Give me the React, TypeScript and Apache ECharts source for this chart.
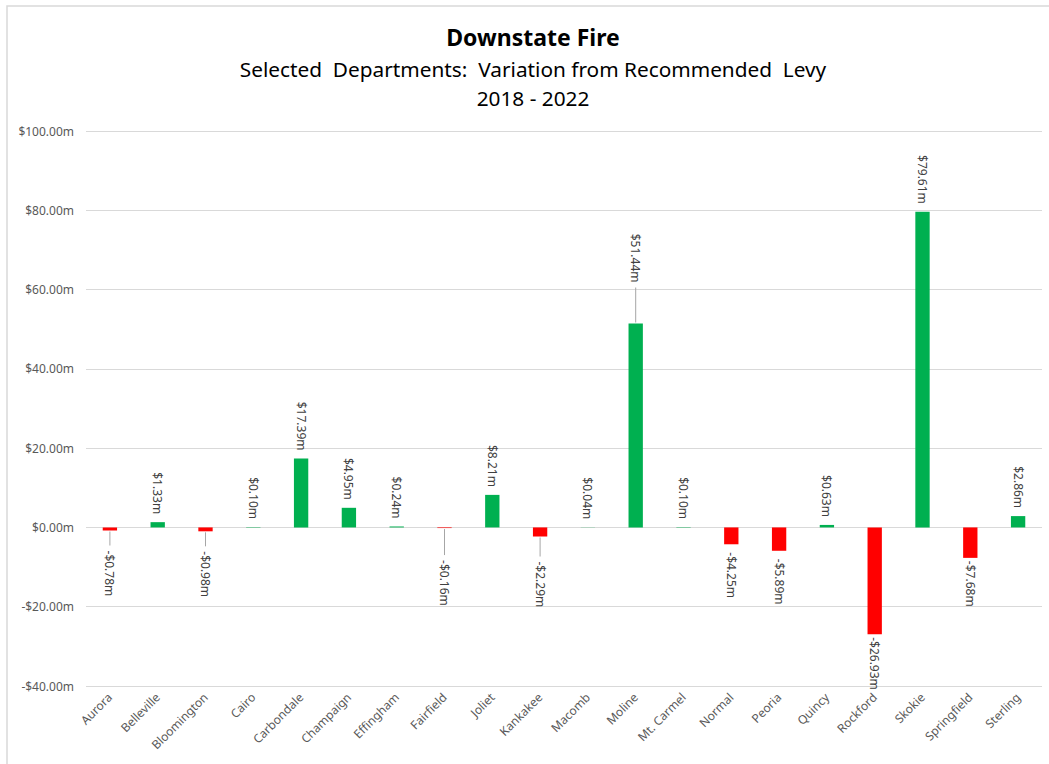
import React, { useEffect, useRef } from "react";
import * as echarts from "echarts";

const categories = [
  "Aurora", "Belleville", "Bloomington", "Cairo", "Carbondale", "Champaign",
  "Effingham", "Fairfield", "Joliet", "Kankakee", "Macomb", "Moline",
  "Mt. Carmel", "Normal", "Peoria", "Quincy", "Rockford", "Skokie",
  "Springfield", "Sterling",
];
const variation = [
  -0.78, 1.33, -0.98, 0.1, 17.39, 4.95, 0.24, -0.16, 8.21, -2.29, 0.04, 51.44,
  0.1, -4.25, -5.89, 0.63, -26.93, 79.61, -7.68, 2.86,
];
const yTicks = { min: -40, max: 100, interval: 20 };

// label distances (px) for labels moved away from their bars in the original
const labelDistance: Record<string, number> = {
  Aurora: 20, Bloomington: 20, Fairfield: 32, Kankakee: 25, Moline: 41,
  Rockford: 3, Springfield: 3,
};
const leaderLines = ["Aurora", "Bloomington", "Fairfield", "Kankakee", "Moline"];

const GREEN = "#00B050";
const RED = "#FF0000";
const FONT = "'Noto Sans', 'Open Sans', sans-serif";

const fmt = (v: number) => (v < 0 ? "-" : "") + "$" + Math.abs(v).toFixed(2) + "m";

export default function App() {
  const ref = useRef<HTMLDivElement>(null);
  useEffect(() => {
    document.body.style.margin = "0";
    const chart = echarts.init(ref.current!, null, { renderer: "svg" });
    const barData = variation.map((v, i) => {
      const d = labelDistance[categories[i]] ?? 8;
      return {
        value: v,
        itemStyle: { color: v < 0 ? RED : GREEN },
        label: {
          position: v < 0 ? "bottom" : "top",
          align: v < 0 ? "left" : "right",
          distance: d,
        },
      };
    });
    const leaderData = leaderLines.map((name) => {
      const i = categories.indexOf(name);
      return [i, variation[i], labelDistance[name]];
    });
    chart.setOption({
      animation: false,
      backgroundColor: "#ffffff",
      title: {
        text: "Downstate Fire",
        subtext: "Selected  Departments:  Variation from Recommended  Levy\n2018 - 2022",
        left: 528,
        textAlign: "center",
        top: 18,
        itemGap: 3,
        textStyle: { fontFamily: FONT, fontSize: 23, fontWeight: "bold", color: "#000", lineHeight: 28 },
        subtextStyle: { fontFamily: FONT, fontSize: 20.8, color: "#000", lineHeight: 29 },
      },
      graphic: [
        {
          type: "rect",
          shape: { x: 7, y: 6, width: 1100, height: 800 },
          style: { fill: "none", stroke: "#d9d9d9", lineWidth: 1.5 },
          silent: true,
        },
      ],
      grid: { left: 86, right: 7, top: 131, bottom: 78, containLabel: false },
      xAxis: {
        type: "category",
        data: categories,
        axisLine: { show: false },
        axisTick: { show: false },
        axisLabel: {
          rotate: 45,
          interval: 0,
          margin: 9,
          color: "#595959",
          fontFamily: FONT,
          fontSize: 12,
        },
      },
      yAxis: {
        type: "value",
        min: yTicks.min,
        max: yTicks.max,
        interval: yTicks.interval,
        axisLine: { show: false },
        axisTick: { show: false },
        splitLine: { lineStyle: { color: "#d9d9d9", width: 1 } },
        axisLabel: {
          margin: 12,
          color: "#595959",
          fontFamily: FONT,
          fontSize: 12,
          formatter: (v: number) => fmt(v),
        },
      },
      series: [
        {
          type: "bar",
          data: barData,
          barWidth: "30%",
          label: {
            show: true,
            rotate: -90,
            verticalAlign: "middle",
            color: "#404040",
            fontFamily: FONT,
            fontSize: 12,
            formatter: (p: any) => fmt(p.value),
          },
        },
        {
          type: "custom",
          data: leaderData,
          silent: true,
          renderItem: (_params: any, api: any) => {
            const idx = api.value(0);
            const val = api.value(1);
            const dist = api.value(2);
            const p = api.coord([idx, val]);
            const s = val < 0 ? 1 : -1;
            return {
              type: "line",
              shape: { x1: p[0], y1: p[1] + s * 1, x2: p[0], y2: p[1] + s * (dist - 5) },
              style: { stroke: "#a6a6a6", lineWidth: 1 },
            };
          },
        },
      ],
    });
    return () => chart.dispose();
  }, []);
  return <div ref={ref} style={{ width: 1049, height: 764 }} />;
}
